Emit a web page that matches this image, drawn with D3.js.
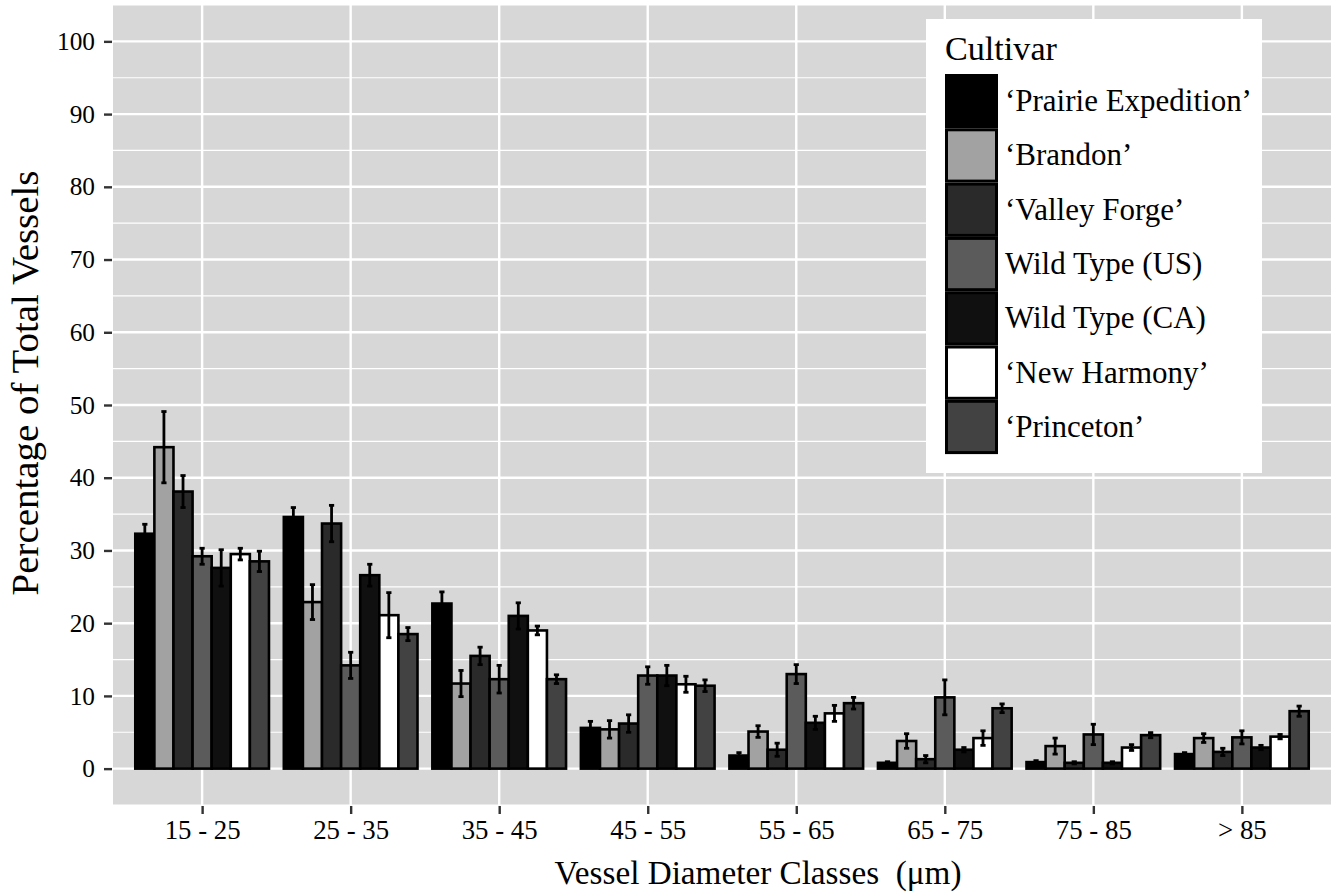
<!DOCTYPE html>
<html>
<head>
<meta charset="utf-8">
<script src="https://cdn.jsdelivr.net/npm/d3@7"></script>
<style>
  body { margin: 0; background: #fff; }
  svg text { font-family: "Liberation Serif", "Tinos", "Times New Roman", "DejaVu Serif", "Noto Serif", serif; fill: #000; }
</style>
</head>
<body>
<svg id="chart" width="1335" height="893"></svg>
<script>
// data
const categories = ["15 - 25", "25 - 35", "35 - 45", "45 - 55", "55 - 65", "65 - 75", "75 - 85", "> 85"];
const cultivars = ["\u2018Prairie Expedition\u2019", "\u2018Brandon\u2019", "\u2018Valley Forge\u2019",
                   "Wild Type (US)", "Wild Type (CA)", "\u2018New Harmony\u2019", "\u2018Princeton\u2019"];
const fills = ["#000000", "#a2a2a2", "#2a2a2a", "#5b5b5b", "#101010", "#ffffff", "#424242"];

// mean % per cultivar, one value per diameter class
const prairieExpedition = [32.3, 34.6, 22.7, 5.6, 1.8, 0.8, 0.9, 2.0];
const brandon           = [44.2, 22.9, 11.7, 5.4, 5.1, 3.8, 3.1, 4.2];
const valleyForge       = [38.1, 33.7, 15.5, 6.2, 2.6, 1.3, 0.8, 2.3];
const wildTypeUS        = [29.2, 14.2, 12.3, 12.8, 13.0, 9.8, 4.7, 4.3];
const wildTypeCA        = [27.6, 26.6, 21.0, 12.8, 6.3, 2.6, 0.8, 2.9];
const newHarmony        = [29.5, 21.1, 19.0, 11.6, 7.6, 4.2, 2.9, 4.4];
const princeton         = [28.5, 18.5, 12.3, 11.4, 9.0, 8.3, 4.6, 7.9];

// standard errors
const sePrairieExpedition = [1.3, 1.3, 1.6, 0.9, 0.4, 0.15, 0.2, 0.2];
const seBrandon           = [4.9, 2.4, 1.8, 1.2, 0.8, 1.0, 1.1, 0.6];
const seValleyForge       = [2.2, 2.5, 1.2, 1.2, 0.9, 0.5, 0.15, 0.5];
const seWildTypeUS        = [1.1, 1.8, 1.9, 1.2, 1.3, 2.4, 1.4, 0.9];
const seWildTypeCA        = [2.5, 1.5, 1.8, 1.4, 0.9, 0.3, 0.15, 0.3];
const seNewHarmony        = [0.8, 3.1, 0.6, 1.1, 1.1, 1.0, 0.4, 0.3];
const sePrinceton         = [1.4, 0.9, 0.6, 0.8, 0.8, 0.6, 0.35, 0.7];

const yTicks = [0, 10, 20, 30, 40, 50, 60, 70, 80, 90, 100];

const means = [prairieExpedition, brandon, valleyForge, wildTypeUS, wildTypeCA, newHarmony, princeton];
const errors = [sePrairieExpedition, seBrandon, seValleyForge, seWildTypeUS, seWildTypeCA, seNewHarmony, sePrinceton];

// flat table for the bars
const rows = [];
cultivars.forEach((c, ci) => {
    categories.forEach((cat, k) => {
        rows.push({ cultivar: c, ci: ci, category: cat, value: means[ci][k], se: errors[ci][k] });
    });
});

const svg = d3.select("#chart");
const panel = { left: 113, right: 1331, top: 5, bottom: 805 };

// scale a text selection's font size so that one sample text is the wanted width
function fitWidth(sel, sample, target, base) {
    const w = sample.getComputedTextLength();
    const size = w > 0 ? base * target / w : base;
    sel.attr("font-size", size.toFixed(2));
    return size;
}

const x = d3.scalePoint()
    .domain(categories)
    .range([panel.left, panel.right])
    .padding(0.6);

const step = x.step();
const xInner = d3.scaleBand()
    .domain(cultivars)
    .range([-0.45 * step, 0.45 * step])
    .padding(0);

const y = d3.scaleLinear()
    .domain([-5, 105])
    .range([panel.bottom, panel.top]);

// panel background
svg.append("rect")
    .attr("x", panel.left)
    .attr("y", panel.top)
    .attr("width", panel.right - panel.left)
    .attr("height", panel.bottom - panel.top)
    .attr("fill", "#d7d7d7");

// minor grid
const minor = d3.range(-5, 106, 10);
svg.append("g").selectAll("line")
    .data(minor)
    .join("line")
    .attr("x1", panel.left).attr("x2", panel.right)
    .attr("y1", d => y(d)).attr("y2", d => y(d))
    .attr("stroke", "#fff")
    .attr("stroke-width", 1.2);

// major grid
svg.append("g").selectAll("line")
    .data(yTicks)
    .join("line")
    .attr("x1", panel.left).attr("x2", panel.right)
    .attr("y1", d => y(d)).attr("y2", d => y(d))
    .attr("stroke", "#fff")
    .attr("stroke-width", 2.4);

svg.append("g").selectAll("line")
    .data(categories)
    .join("line")
    .attr("x1", d => x(d)).attr("x2", d => x(d))
    .attr("y1", panel.top).attr("y2", panel.bottom)
    .attr("stroke", "#fff")
    .attr("stroke-width", 2.4);

// bars
svg.append("g").selectAll("rect")
    .data(rows)
    .join("rect")
    .attr("x", d => x(d.category) + xInner(d.cultivar))
    .attr("y", d => y(d.value))
    .attr("width", xInner.bandwidth())
    .attr("height", d => y(0) - y(d.value))
    .attr("fill", d => fills[d.ci])
    .attr("stroke", "#000")
    .attr("stroke-width", 2.6);

// error bars
const capHalf = 2.6;
const cx = d => x(d.category) + xInner(d.cultivar) + xInner.bandwidth() / 2;
const err = svg.append("g").selectAll("g")
    .data(rows)
    .join("g")
    .attr("stroke", "#000")
    .attr("stroke-width", 2.8);

err.append("line")
    .attr("x1", cx).attr("x2", cx)
    .attr("y1", d => y(d.value - d.se))
    .attr("y2", d => y(d.value + d.se));

err.append("line")
    .attr("x1", d => cx(d) - capHalf).attr("x2", d => cx(d) + capHalf)
    .attr("y1", d => y(d.value + d.se))
    .attr("y2", d => y(d.value + d.se));

err.append("line")
    .attr("x1", d => cx(d) - capHalf).attr("x2", d => cx(d) + capHalf)
    .attr("y1", d => y(d.value - d.se))
    .attr("y2", d => y(d.value - d.se));

// axes
const yAxis = d3.axisLeft(y).tickValues(yTicks).tickSize(8).tickPadding(9);
const yG = svg.append("g")
    .attr("transform", `translate(${panel.left - 1},0)`)
    .call(yAxis);
yG.attr("font-family", null);
yG.select(".domain").remove();
yG.selectAll(".tick line").attr("stroke", "#333").attr("stroke-width", 2.4);
const yTickText = yG.selectAll(".tick text").attr("font-size", 27).attr("fill", "#000");
fitWidth(yTickText, yTickText.filter(d => d === 100).node(), 38, 27);

const xAxis = d3.axisBottom(x).tickSize(8).tickPadding(6);
const xG = svg.append("g")
    .attr("transform", `translate(0,${panel.bottom + 1})`)
    .call(xAxis);
xG.attr("font-family", null);
xG.select(".domain").remove();
xG.selectAll(".tick line").attr("stroke", "#333").attr("stroke-width", 2.4);
const xTickText = xG.selectAll(".tick text").attr("font-size", 27).attr("fill", "#000");
fitWidth(xTickText, xTickText.node(), 76, 27);

// axis titles
const xTitle = svg.append("text")
    .attr("x", 758)
    .attr("y", 884)
    .attr("text-anchor", "middle")
    .attr("font-size", 33)
    .text("Vessel Diameter Classes\u00a0\u00a0(\u03bcm)");
fitWidth(xTitle, xTitle.node(), 407, 33);

const yTitle = svg.append("text")
    .attr("transform", "translate(38,383) rotate(-90)")
    .attr("text-anchor", "middle")
    .attr("font-size", 33)
    .text("Percentage of Total Vessels");
fitWidth(yTitle, yTitle.node(), 425, 33);

// legend
const legend = svg.append("g");
legend.append("rect")
    .attr("x", 926).attr("y", 19)
    .attr("width", 336).attr("height", 454)
    .attr("fill", "#fff");

const legendTitle = legend.append("text")
    .attr("x", 945).attr("y", 60)
    .attr("font-size", 34)
    .text("Cultivar");
fitWidth(legendTitle, legendTitle.node(), 112, 34);

const keyH = 54.3;
const key = legend.selectAll("g.key")
    .data(cultivars)
    .join("g")
    .attr("class", "key")
    .attr("transform", (d, i) => `translate(945,${74 + i * keyH})`);

key.append("rect")
    .attr("x", 1.5).attr("y", 1.5)
    .attr("width", 50).attr("height", keyH - 3)
    .attr("fill", (d, i) => fills[i])
    .attr("stroke", "#000")
    .attr("stroke-width", 3);

const keyText = key.append("text")
    .attr("x", 60)
    .attr("y", keyH / 2 + 10)
    .attr("font-size", 31)
    .text(d => d);
fitWidth(keyText, keyText.node(), 247, 31);
</script>
</body>
</html>
